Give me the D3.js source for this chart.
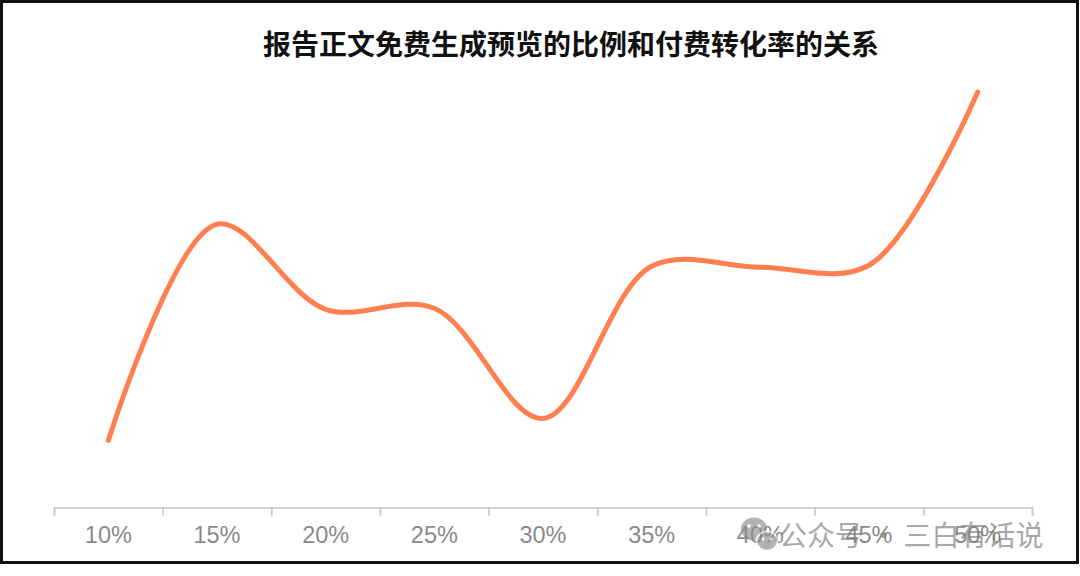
<!DOCTYPE html>
<html>
<head>
<meta charset="utf-8">
<script src="https://cdn.jsdelivr.net/npm/d3@7/dist/d3.min.js"></script>
<style>
  html, body { margin: 0; padding: 0; background: #fff; }
  svg { display: block; }
</style>
</head>
<body>
<svg id="chart" width="1080" height="576"></svg>
<script>
// ---- data ----
const title = "报告正文免费生成预览的比例和付费转化率的关系";
const categories = ["10%", "15%", "20%", "25%", "30%", "35%", "40%", "45%", "50%"];
const conversion = [1.34, 5.66, 3.96, 3.98, 1.78, 4.82, 4.80, 4.84, 8.30];
const watermarkText = "公众号 · 三白有话说";

// ---- layout ----
const W = 1080, H = 576;
const svg = d3.select("#chart");

svg.append("rect").attr("width", W).attr("height", H).attr("fill", "#fff");
// outer frame
svg.append("rect")
  .attr("x", 1.5).attr("y", 1.5)
  .attr("width", 1076).attr("height", 561)
  .attr("fill", "none").attr("stroke", "#111").attr("stroke-width", 3);

const plot = { left: 54, right: 1032, top: 57, bottom: 507.5 };

const x = d3.scaleBand().domain(categories).range([plot.left, plot.right]).padding(0);
const y = d3.scaleLinear().domain([0, 9]).range([plot.bottom, plot.top]);

// title
svg.append("text")
  .attr("x", 571).attr("y", 55)
  .attr("text-anchor", "middle")
  .attr("font-family", "'Noto Sans CJK SC', sans-serif")
  .attr("font-weight", 700)
  .attr("font-size", 28)
  .attr("fill", "#111")
  .text(title);

// category boundary ticks + axis line
const boundaries = d3.range(categories.length + 1);
const xb = d3.scaleLinear().domain([0, categories.length]).range([plot.left, plot.right]);
const tickAxis = svg.append("g")
  .attr("transform", `translate(0,${plot.bottom})`)
  .call(d3.axisBottom(xb).tickValues(boundaries).tickFormat("").tickSize(8).tickSizeOuter(8));
tickAxis.selectAll("path, line").attr("stroke", "#c6c6c6").attr("stroke-width", 1.6);

// labels at band centres
const labelAxis = svg.append("g")
  .attr("transform", `translate(0,${plot.bottom})`)
  .call(d3.axisBottom(x).tickSize(0).tickPadding(19));
labelAxis.select(".domain").remove();
labelAxis.selectAll("text")
  .attr("font-family", "'Liberation Sans', Arial, sans-serif")
  .attr("font-size", 23.5)
  .attr("fill", "#8a8a8a")
  .attr("dy", "0.71em");

// line
const line = d3.line()
  .x((d, i) => x(categories[i]) + x.bandwidth() / 2)
  .y(d => y(d))
  .curve(d3.curveCatmullRom.alpha(0.5));

svg.append("path")
  .datum(conversion)
  .attr("d", line)
  .attr("fill", "none")
  .attr("stroke", "#ff7f50")
  .attr("stroke-width", 5)
  .attr("stroke-linecap", "round")
  .attr("stroke-linejoin", "round");

// watermark
const wm = svg.append("g").attr("opacity", 0.65);
const icon = wm.append("g").attr("fill", "#8c8c8c");
icon.append("ellipse").attr("cx", 754).attr("cy", 529).attr("rx", 13).attr("ry", 11.5);
icon.append("ellipse").attr("cx", 767).attr("cy", 541).attr("rx", 10.5).attr("ry", 9.5)
  .attr("stroke", "#fff").attr("stroke-width", 1.5);
const eyes = wm.append("g").attr("fill", "#fff");
eyes.append("circle").attr("cx", 749).attr("cy", 526).attr("r", 1.8);
eyes.append("circle").attr("cx", 759).attr("cy", 526).attr("r", 1.8);
eyes.append("circle").attr("cx", 763).attr("cy", 539).attr("r", 1.4);
eyes.append("circle").attr("cx", 771).attr("cy", 539).attr("r", 1.4);
wm.append("text")
  .attr("x", 779).attr("y", 546)
  .attr("font-family", "'Noto Sans CJK SC', sans-serif")
  .attr("font-size", 28)
  .attr("fill", "#7a7a7a")
  .text(watermarkText);
</script>
</body>
</html>
